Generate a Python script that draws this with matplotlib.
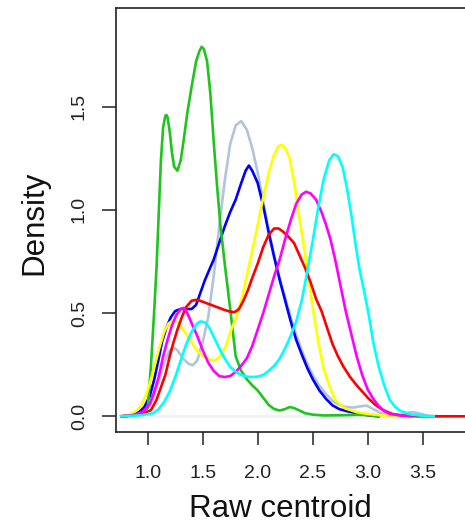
import matplotlib
matplotlib.use("Agg")
import matplotlib.pyplot as plt

plt.rcParams['font.family'] = ['Liberation Sans', 'DejaVu Sans']

# ---- data (x = raw centroid, y = density) ----
green_x = [0.76, 0.85, 0.92, 0.97, 1.00, 1.03, 1.06, 1.08, 1.10, 1.12, 1.14, 1.16, 1.17, 1.18,
           1.20, 1.22, 1.24, 1.27, 1.30, 1.33, 1.36, 1.40, 1.44, 1.47, 1.49, 1.51, 1.54, 1.57,
           1.60, 1.63, 1.66, 1.70, 1.75, 1.80, 1.85, 1.90, 1.95, 2.00, 2.05, 2.10, 2.15, 2.20,
           2.25, 2.29, 2.33, 2.38, 2.43, 2.50, 2.60, 2.75, 2.90, 3.00, 3.10]
green_y = [0.0, 0.003, 0.012, 0.025, 0.04, 0.25, 0.52, 0.72, 0.98, 1.24, 1.40, 1.455, 1.46, 1.45,
           1.38, 1.28, 1.21, 1.19, 1.24, 1.35, 1.47, 1.60, 1.72, 1.77, 1.79, 1.78, 1.72, 1.56,
           1.33, 1.12, 0.93, 0.74, 0.52, 0.29, 0.22, 0.18, 0.15, 0.125, 0.09, 0.055, 0.035, 0.028,
           0.035, 0.045, 0.04, 0.028, 0.015, 0.008, 0.004, 0.005, 0.007, 0.006, 0.0]

steel_x = [0.76, 0.85, 0.95, 1.00, 1.05, 1.10, 1.15, 1.20, 1.23, 1.27, 1.32, 1.37, 1.41, 1.45,
           1.50, 1.55, 1.60, 1.65, 1.70, 1.75, 1.80, 1.85, 1.90, 1.95, 2.00, 2.05, 2.10, 2.15,
           2.20, 2.25, 2.30, 2.35, 2.40, 2.45, 2.50, 2.56, 2.62, 2.68, 2.74, 2.80, 2.87, 2.93,
           2.99, 3.05, 3.12, 3.20, 3.30, 3.37, 3.41, 3.46, 3.55, 3.65]
steel_y = [0.0, 0.004, 0.02, 0.04, 0.09, 0.17, 0.26, 0.32, 0.335, 0.32, 0.28, 0.255, 0.247, 0.27,
           0.36, 0.48, 0.68, 0.92, 1.14, 1.32, 1.41, 1.43, 1.39, 1.30, 1.18, 1.04, 0.90, 0.78,
           0.67, 0.575, 0.48, 0.395, 0.32, 0.255, 0.20, 0.148, 0.108, 0.075, 0.055, 0.045, 0.042, 0.048,
           0.052, 0.035, 0.015, 0.006, 0.008, 0.018, 0.02, 0.015, 0.002, 0.0]

blue_x = [0.76, 0.85, 0.92, 0.97, 1.02, 1.06, 1.10, 1.13, 1.17, 1.21, 1.25, 1.30, 1.35, 1.40,
          1.44, 1.48, 1.52, 1.56, 1.60, 1.65, 1.70, 1.75, 1.80, 1.85, 1.89, 1.92, 1.95, 2.00,
          2.05, 2.10, 2.15, 2.20, 2.25, 2.30, 2.35, 2.40, 2.45, 2.50, 2.56, 2.62, 2.68, 2.74,
          2.80, 2.90, 3.00, 3.10]
blue_y = [0.0, 0.004, 0.02, 0.045, 0.10, 0.18, 0.28, 0.36, 0.43, 0.48, 0.51, 0.52, 0.52, 0.52,
          0.54, 0.60, 0.66, 0.71, 0.76, 0.84, 0.92, 0.99, 1.05, 1.13, 1.19, 1.215, 1.19, 1.13,
          1.02, 0.89, 0.77, 0.66, 0.56, 0.46, 0.37, 0.30, 0.235, 0.18, 0.126, 0.085, 0.053, 0.035,
          0.026, 0.015, 0.005, 0.0]

yellow_x = [0.76, 0.82, 0.88, 0.94, 0.99, 1.03, 1.07, 1.11, 1.15, 1.19, 1.23, 1.27, 1.31, 1.36,
            1.41, 1.46, 1.51, 1.56, 1.61, 1.66, 1.71, 1.76, 1.81, 1.86, 1.90, 1.95, 2.00, 2.05,
            2.10, 2.15, 2.19, 2.22, 2.25, 2.29, 2.33, 2.37, 2.41, 2.45, 2.50, 2.55, 2.60, 2.65,
            2.70, 2.75, 2.80, 2.90, 3.00, 3.10, 3.20, 3.35, 3.45]
yellow_y = [0.0, 0.005, 0.02, 0.05, 0.11, 0.18, 0.26, 0.34, 0.41, 0.45, 0.465, 0.455, 0.43, 0.39,
            0.35, 0.31, 0.29, 0.275, 0.27, 0.29, 0.34, 0.42, 0.49, 0.58, 0.68, 0.80, 0.93, 1.06,
            1.18, 1.27, 1.31, 1.315, 1.30, 1.25, 1.14, 0.99, 0.86, 0.71, 0.53, 0.36, 0.23, 0.15,
            0.085, 0.055, 0.037, 0.02, 0.012, 0.006, 0.003, 0.002, 0.0]

red_x = [0.76, 0.85, 0.95, 1.03, 1.08, 1.12, 1.16, 1.20, 1.23, 1.27, 1.31, 1.35, 1.40, 1.45,
         1.50, 1.55, 1.60, 1.65, 1.70, 1.75, 1.79, 1.83, 1.87, 1.91, 1.95, 2.00, 2.05, 2.10,
         2.15, 2.19, 2.23, 2.28, 2.33, 2.38, 2.43, 2.48, 2.53, 2.58, 2.63, 2.68, 2.73, 2.78,
         2.84, 2.90, 2.95, 3.00, 3.07, 3.14, 3.22, 3.30, 3.45, 4.30]
red_y = [0.0, 0.003, 0.01, 0.03, 0.08, 0.14, 0.20, 0.29, 0.35, 0.42, 0.48, 0.53, 0.56, 0.565,
         0.555, 0.545, 0.535, 0.525, 0.515, 0.507, 0.505, 0.52, 0.56, 0.61, 0.67, 0.74, 0.82, 0.88,
         0.91, 0.91, 0.895, 0.87, 0.84, 0.78, 0.72, 0.65, 0.57, 0.51, 0.43, 0.35, 0.29, 0.24,
         0.19, 0.15, 0.12, 0.09, 0.055, 0.03, 0.012, 0.004, 0.0, 0.0]

magenta_x = [0.76, 0.85, 0.95, 1.02, 1.06, 1.10, 1.14, 1.18, 1.22, 1.26, 1.30, 1.33, 1.36, 1.40,
             1.45, 1.50, 1.55, 1.60, 1.65, 1.70, 1.75, 1.80, 1.85, 1.90, 1.95, 2.00, 2.05, 2.10,
             2.15, 2.20, 2.25, 2.30, 2.35, 2.40, 2.44, 2.48, 2.53, 2.58, 2.62, 2.66, 2.70, 2.75,
             2.80, 2.85, 2.90, 2.95, 3.00, 3.05, 3.10, 3.15, 3.20, 3.30, 3.40]
magenta_y = [0.0, 0.004, 0.02, 0.06, 0.12, 0.19, 0.29, 0.37, 0.44, 0.49, 0.52, 0.525, 0.50, 0.45,
             0.39, 0.32, 0.26, 0.22, 0.195, 0.19, 0.195, 0.215, 0.245, 0.28, 0.34, 0.42, 0.50, 0.59,
             0.68, 0.76, 0.86, 0.95, 1.03, 1.075, 1.088, 1.08, 1.05, 0.99, 0.93, 0.86, 0.77, 0.64,
             0.51, 0.40, 0.29, 0.20, 0.13, 0.085, 0.05, 0.025, 0.012, 0.004, 0.0]

cyan_x = [0.76, 0.85, 0.95, 1.05, 1.10, 1.15, 1.20, 1.25, 1.30, 1.35, 1.40, 1.45, 1.48, 1.52,
          1.56, 1.60, 1.65, 1.70, 1.75, 1.80, 1.85, 1.90, 1.95, 2.00, 2.05, 2.10, 2.15, 2.20,
          2.25, 2.30, 2.35, 2.40, 2.45, 2.50, 2.55, 2.60, 2.65, 2.69, 2.73, 2.77, 2.81, 2.85,
          2.89, 2.93, 2.97, 3.01, 3.05, 3.10, 3.15, 3.20, 3.25, 3.30, 3.40, 3.50, 3.60]
cyan_y = [0.0, 0.002, 0.006, 0.015, 0.035, 0.07, 0.12, 0.19, 0.27, 0.35, 0.41, 0.45, 0.46, 0.455,
          0.43, 0.385, 0.33, 0.28, 0.24, 0.215, 0.20, 0.192, 0.19, 0.192, 0.20, 0.22, 0.245, 0.28,
          0.33, 0.39, 0.46, 0.56, 0.70, 0.85, 1.01, 1.15, 1.24, 1.27, 1.26, 1.21, 1.11, 0.98,
          0.83, 0.70, 0.60, 0.49, 0.36, 0.24, 0.15, 0.08, 0.045, 0.025, 0.008, 0.002, 0.0]

base_x = [0.76, 4.30]
base_y = [0.0, 0.0]

x_ticks = [1.0, 1.5, 2.0, 2.5, 3.0, 3.5]
x_tick_labels = ["1.0", "1.5", "2.0", "2.5", "3.0", "3.5"]
y_ticks = [0.0, 0.5, 1.0, 1.5]
y_tick_labels = ["0.0", "0.5", "1.0", "1.5"]

# ---- figure ----
W, H = 465, 524
fig = plt.figure(figsize=(W / 100, H / 100), dpi=100)
left_px, top_px, bottom_px = 115.7, 8.3, 432.3
xlim = (0.709, 4.2)
ppu_x = 110.0
width_px = (xlim[1] - xlim[0]) * ppu_x
ax = fig.add_axes([left_px / W, 1 - bottom_px / H, width_px / W, (bottom_px - top_px) / H])
ax.set_xlim(*xlim)
ax.set_ylim(-0.0776, 1.977)

lw = 1.9
ax.plot(base_x, base_y, color='#edf1f9', lw=lw)
ax.plot(steel_x, steel_y, color='#B0C4DE', lw=lw)
ax.plot(blue_x, blue_y, color='#0000FF', lw=lw)
ax.plot(green_x, green_y, color='#1fc41f', lw=lw)
ax.plot(yellow_x, yellow_y, color='#FFFF00', lw=lw)
ax.plot(red_x, red_y, color='#FF0000', lw=lw)
ax.plot(magenta_x, magenta_y, color='#FF00FF', lw=lw)
ax.plot(cyan_x, cyan_y, color='#00FFFF', lw=lw)

for s in ['left', 'top', 'bottom', 'right']:
    ax.spines[s].set_linewidth(1.2)
    ax.spines[s].set_color('#222222')

ax.set_xticks(x_ticks)
ax.set_xticklabels(x_tick_labels)
ax.set_yticks(y_ticks)
ax.set_yticklabels(y_tick_labels, rotation=90, va='center')
ax.tick_params(axis='x', length=9.5, width=1.2, color='#333333', pad=14, labelsize=14,
               labelcolor='#222222')
ax.tick_params(axis='y', length=10, width=1.2, color='#333333', pad=10, labelsize=14,
               labelcolor='#222222')

fig.text(34 / W, 1 - 223 / H, 'Density', rotation=90, ha='center', va='center',
         fontsize=22.5, color='#111111')
fig.text(280 / W, 1 - 517 / H, 'Raw centroid', ha='center', va='baseline',
         fontsize=22.5, color='#111111')

fig.savefig('out.png', dpi=100)
